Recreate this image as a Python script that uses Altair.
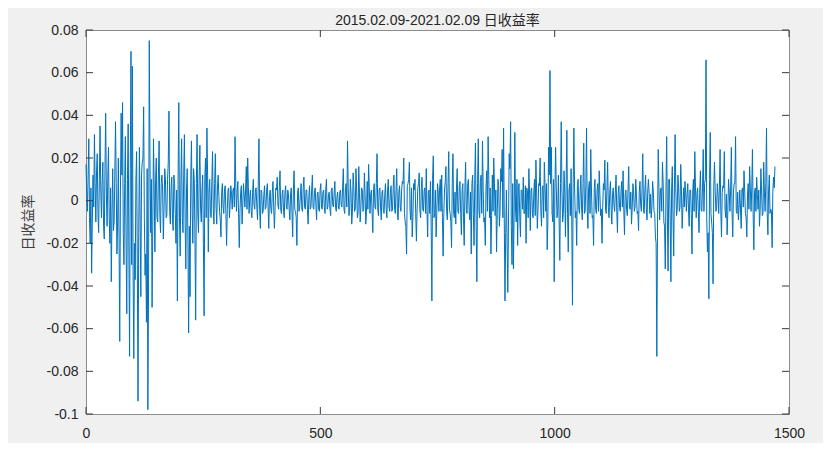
import altair as alt
import pandas as pd

# Daily returns, in units of 0.001.
# "main" values sit every 3 trading days; "mid" values sit half-way between them.
seg00 = [17, -5, 29, -20, -34, 12, 31, -10, 22, -15, 35, -8, 18, -18, 41, -12, 25, -20, -38, 15,
         -10, 37, -25, 20, -66, 41, 46, -30, 30, -53, 36, -73, 70, 63]
mid00 = [4, 12, -8, 6, -10, -3, 8, 14, -6, 10, 5, 9, -12, 15, 3, 11, -8, 6, -5, -14,
         12, 8, -10, -18, 5, 12, -15, 8, -20, 10, -25, 15, -30, -35]
seg01 = [-74, -37, 23, -94, 25, -45, 18, 44, -35, -57, -98, 75, -15, -50, 29, -24, 20, -10, 28, -15,
         12, -18, 15, -8, 10, 42, -11, 11, -14, 8, -20, -47, 46]
mid01 = [-20, 10, -30, -15, -10, 12, 20, -8, -25, 15, -40, 20, 10, -12, 5, 10, -8, 12, -6, 8,
         5, -4, 10, -7, 18, -5, 6, -9, 12, -6, 5, 10, -8]
seg02 = [-26, 29, -15, 31, -32, 15, -62, -45, 28, -20, 10, -56, 31, -15, 26, -10, 12, -54, 20, 34,
         -24, 10, -8, 23, -11, 22, -11, 12, -5, -17, 8, -6, 7]
mid02 = [10, -8, 12, -10, 5, -20, -12, 10, -5, 15, -18, 8, -6, 12, -4, 5, -20, 10, -8, 12,
         5, -6, 9, -4, 8, -3, 6, 2, -9, 4, -3, 5, -6]
seg03 = [-21, 5, -8, 7, -4, 6, 30, -5, 9, -22, 4, -11, 8, -3, 16, 20, -6, 5, -8, 10,
         -4, 6, -9, 29, -13, 4, -5, 7, -3, 8, -13, 5, -6, 9]
mid03 = [-4, 6, -2, 3, 5, -3, 8, 4, -6, -5, 7, -2, 3, 5, -4, 6, 2, -5, 4, -2,
         5, -3, 7, -4, 5, -6, 3, -4, 5, -3, 2, -4, 4, -3]
seg04 = [-13, 6, 11, -4, 14, -6, 5, -8, 7, -4, 3, -9, 6, -17, 14, -5, -21, 6, -3, 8,
         -5, 11, -4, 5, -11, 7, -3, 12, -4, 6, -9, 4, -5]
mid04 = [-3, 5, -2, 6, -4, 3, -5, 4, -3, 5, -4, 3, -6, 5, -4, -8, 4, -5, 3, -4,
         6, -3, 5, -4, 2, -4, 5, -3, 4, -2, 3, -4, 5]
seg05 = [8, -4, 5, -6, 10, -3, 4, -7, 6, -3, 9, -5, 4, -4, 5, -3, 15, -6, 8, 28,
         -7, 10, -11, 13, -5, 15, -8, 16, -10, 6, -5, 13, -11]
mid05 = [-3, 4, -3, 5, -4, 3, -4, 5, -2, 4, -3, 2, -3, 4, -2, 6, -4, 5, -3, 6,
         -5, 4, -5, 6, -4, 5, -6, 4, -3, 5, -4, 3, -5]
seg06 = [9, 17, -6, 5, -15, 8, -4, 22, -7, 6, -9, 5, -6, 8, -8, 10, -5, 7, -4, 12,
         -6, 15, -9, 7, -5, 9, 20, -10, -25, 8, 18, -9, -17, 8]
mid06 = [-4, 6, 3, -6, 5, -3, 8, -4, 5, -3, 4, -5, 3, -4, 5, -3, 4, -5, 6, -4,
         5, -6, 4, -3, 5, 8, -6, -12, 7, 10, -5, 6, -8, 5]
seg07 = [10, -19, 6, 13, -8, 11, -5, 6, 15, -17, 5, 9, -47, 21, -6, -17, 8, -5, 10, 12,
         -26, 5, 16, -9, 23, -6, -22, 22, -8, -11, 15, -6, 9]
mid07 = [-6, -4, 8, -5, 6, -4, 5, -6, -5, 4, -6, -12, 10, -8, 5, -6, 4, 6, -5, -8,
         -6, 9, -5, 8, -4, -10, 8, -6, 4, 6, -5, 7, -6]
seg08 = [-16, 8, -21, 18, -6, 10, -9, -25, 12, -21, 27, -38, 29, -8, 12, 28, -10, -21, 14, 30,
         -8, -25, 12, 20, -7, -24, 10, -12, 15, 24, 34, -47, 5]
mid08 = [5, -8, 6, -4, 8, -5, 4, 8, -6, 10, -12, 8, -5, 9, -6, 5, -8, 6, -5, 10,
         6, -7, -5, 8, 5, -6, 7, -5, 9, -8, -10, -15, -20]
seg09 = [-43, 22, 37, -30, -32, 32, -10, -21, 8, -17, 5, 11, -6, -20, 4, 15, -14, 6, -8, 10,
         19, -13, 8, 20, -12, 7, 18, -5, -23, 25, 61, 25, -10, -38]
mid09 = [-10, 15, -12, 8, -6, -5, 10, 6, -8, 5, -4, -6, 7, 6, -8, 3, 5, -6, 4, -7,
         5, -4, 7, -5, 6, -8, 6, 8, -10, 12, 8, -6, 10, 5]
seg10 = [25, -8, 12, -28, 37, -10, 14, -17, 33, -24, 8, 15, -49, 34, -8, -21, 10, -6, 12, -9,
         27, -5, 34, -13, 9, 24, -8, -21, 10, -6, 8, 14, -7]
mid10 = [6, -5, -10, 8, 5, -6, 4, 8, -6, 5, -7, -10, 8, 6, -5, 7, -4, 5, -4, 8,
         -6, 7, -5, 6, -6, 5, -7, 6, -4, 5, -5, 3, -4]
seg11 = [-20, 8, 19, -6, 18, -8, 9, -11, 6, -5, 12, -15, 7, -5, 9, 14, -16, 5, -7, 16,
         -4, -11, 8, -5, 10, -6, -14, 9, -5, 22, -6, 12, -9]
mid11 = [-3, 5, -4, 6, -3, 4, -4, 3, -2, 4, -5, 3, -3, 4, -3, -4, 3, -4, 5, -3,
         4, -3, 4, -3, 3, -5, 4, -2, 6, -4, 5, -3, 4]
seg12 = [10, -6, -8, 9, -5, -17, -73, 24, -9, 6, 18, -10, -32, 30, -33, 10, -38, 16, -26, 31,
         -7, 12, -5, 17, -13, 6, 9, -5, 8, -12, 5, -25, 10, 23]
mid12 = [4, 3, -3, 4, -6, -20, -10, 6, 4, -5, 8, -12, 5, -8, 10, -10, 5, -8, 6, 5,
         -4, 6, -3, 5, -4, -3, 4, 3, -4, 5, -6, 4, -5, 6]
seg13 = [-8, 6, -15, 14, -5, 24, 8, 66, -24, -46, 32, -10, -39, 18, -5, 8, -6, 24, -17, 7,
         23, -8, -16, 10, -5, 25, -17, 8, 30, -6, -9, 5, -13]
mid13 = [3, -5, 4, -4, 6, -5, 10, -8, -15, 10, -6, -15, 6, 5, -4, 3, 6, -5, 4, 6,
         -4, 3, -5, 4, 6, -6, 4, 8, -5, 4, -3, -4, 5]
seg14 = [6, 14, -6, -17, 8, 16, -5, 24, -23, 6, 11, -4, -12, 15, -7, 18, -5, 34, -16, 12,
         -4, -22, 11, 16]
mid14 = [-3, 4, -8, 3, -4, 6, 5, -6, 4, -5, 3, 5, -4, 5, -6, 4, 8, -6, 5, -6,
         -5, 4, 6]

main_lists = [seg00, seg01, seg02, seg03, seg04, seg05, seg06, seg07,
              seg08, seg09, seg10, seg11, seg12, seg13, seg14]
mid_lists = [mid00, mid01, mid02, mid03, mid04, mid05, mid06, mid07,
             mid08, mid09, mid10, mid11, mid12, mid13, mid14]
day_step = 3

days, returns = [], []
k = 0
for main, mid in zip(main_lists, mid_lists):
    for i, v in enumerate(main):
        days.append(k * day_step)
        returns.append(v / 1000)
        if i < len(mid):
            days.append(k * day_step + day_step / 2)
            returns.append(mid[i] / 1000)
        k += 1

x_ticks = [0, 500, 1000, 1500]
y_ticks = [-0.1, -0.08, -0.06, -0.04, -0.02, 0, 0.02, 0.04, 0.06, 0.08]

title_text = "2015.02.09-2021.02.09 日收益率"
y_title = "日收益率"

W, H = 703, 384
TICK = 7
FONT = "Liberation Sans, Arial, Noto Sans CJK SC"
LINE_COLOR = "#0072BD"
TEXT_COLOR = "#262626"
TICK_COLOR = "#3a3a3a"

df = pd.DataFrame({"day": days, "ret": returns})
xt = pd.DataFrame({"xt": x_ticks})
yt = pd.DataFrame({"yt": y_ticks})

xscale = alt.Scale(domain=[0, 1500], nice=False, zero=False)
yscale = alt.Scale(domain=[-0.1, 0.08], nice=False, zero=False)

line = alt.Chart(df).mark_line(color=LINE_COLOR, strokeWidth=1.0).encode(
    x=alt.X("day:Q", scale=xscale, title=None,
            axis=alt.Axis(values=x_ticks, labelExpr="'' + datum.value", tickSize=0,
                          domain=False, grid=False, labelPadding=12, labelFlush=False,
                          labelFontSize=14, labelColor=TEXT_COLOR, labelFont=FONT)),
    y=alt.Y("ret:Q", scale=yscale, title=y_title,
            axis=alt.Axis(values=y_ticks, labelExpr="'' + datum.value", tickSize=0,
                          domain=False, grid=False, labelPadding=8, labelFlush=False,
                          labelFontSize=14, labelColor=TEXT_COLOR, labelFont=FONT,
                          titleFont=FONT, titleFontSize=14, titleFontWeight="normal",
                          titleColor="#404040", titlePadding=11)),
)

ytick_left = alt.Chart(yt).mark_rule(color=TICK_COLOR, strokeWidth=1).encode(
    y=alt.Y("yt:Q", scale=yscale), x=alt.value(0), x2=alt.value(TICK))
ytick_right = alt.Chart(yt).mark_rule(color=TICK_COLOR, strokeWidth=1).encode(
    y=alt.Y("yt:Q", scale=yscale), x=alt.value(W - TICK), x2=alt.value(W))
xtick_bottom = alt.Chart(xt).mark_rule(color=TICK_COLOR, strokeWidth=1).encode(
    x=alt.X("xt:Q", scale=xscale), y=alt.value(H - TICK), y2=alt.value(H))
xtick_top = alt.Chart(xt).mark_rule(color=TICK_COLOR, strokeWidth=1).encode(
    x=alt.X("xt:Q", scale=xscale), y=alt.value(0), y2=alt.value(TICK))

chart = alt.layer(line, ytick_left, ytick_right, xtick_bottom, xtick_top).properties(
    width=W, height=H,
    title=alt.TitleParams(title_text, font=FONT, fontSize=14, fontWeight="normal",
                          color=TEXT_COLOR, offset=-5, anchor="middle"),
    autosize=alt.AutoSizeParams(type="none"),
    padding={"left": 78, "top": 22, "right": 34, "bottom": 29},
    background="#f0f0f0",
).configure_view(
    fill="white", stroke="#8c8c8c", strokeWidth=1
)

chart.save("out.html", embed_options={"renderer": "svg", "actions": False})
